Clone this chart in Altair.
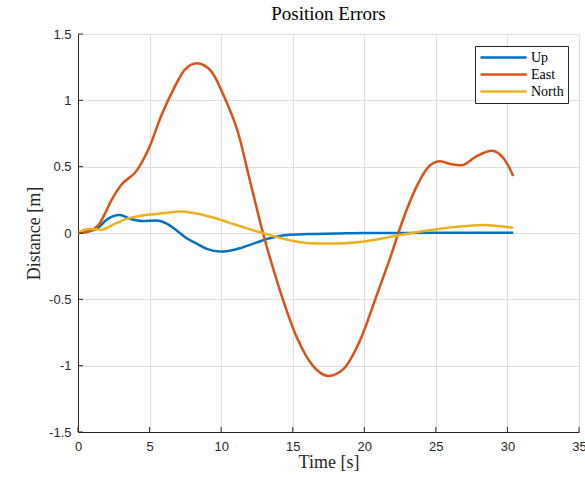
import altair as alt
import pandas as pd

# ---- data ----
up_t = [0, 0.6, 1.3, 2.0, 2.9, 3.7, 4.5, 5.5, 6.2, 7.0, 7.6, 8.2, 9.0, 9.9, 10.5, 11.3,
        12.0, 13.2, 14.6, 16, 18, 20, 22, 25, 28, 30.4]
up_v = [0, 0.01, 0.03, 0.10, 0.135, 0.105, 0.09, 0.094, 0.07, 0.01, -0.04, -0.075, -0.12,
        -0.14, -0.135, -0.115, -0.09, -0.045, -0.015, -0.008, -0.004, 0, 0, 0.002, 0.002, 0.002]

east_t = [0, 0.7, 1.1, 1.5, 1.9, 2.3, 3.0, 4.1, 5.0, 5.8, 6.75, 7.45, 8.3, 9.3, 10.2, 11.2,
          12.0, 12.9, 14.1, 15.3, 16.4, 17.5, 18.5, 19.7, 20.9, 21.8, 22.7, 23.65, 24.6,
          25.3, 26.0, 26.8, 27.8, 28.9, 29.5, 30.0, 30.4]
east_v = [0, 0.01, 0.03, 0.07, 0.15, 0.24, 0.36, 0.47, 0.65, 0.88, 1.10, 1.23, 1.28, 1.22,
          1.03, 0.75, 0.40, 0.01, -0.43, -0.79, -1.0, -1.077, -1.03, -0.81, -0.46, -0.19,
          0.10, 0.35, 0.51, 0.54, 0.52, 0.51, 0.575, 0.62, 0.59, 0.52, 0.43]

north_t = [0, 0.7, 1.6, 2.6, 3.5, 4.7, 6.0, 7.2, 8.1, 9.3, 10.5, 11.5, 12.9, 14.6, 16.2,
           17.8, 19.5, 21.1, 22.5, 25.2, 26.9, 28.3, 29.5, 30.4]
north_v = [0, 0.03, 0.025, 0.07, 0.11, 0.135, 0.15, 0.163, 0.15, 0.12, 0.08, 0.045, 0.0,
           -0.05, -0.077, -0.08, -0.07, -0.045, -0.015, 0.03, 0.05, 0.06, 0.05, 0.04]

series_names = ["Up", "East", "North"]
series_colors = ["#0072BD", "#D95319", "#EDB120"]

x_ticks = [0, 5, 10, 15, 20, 25, 30, 35]
y_ticks = [-1.5, -1, -0.5, 0, 0.5, 1, 1.5]

rows = []
for name, ts, vs in [("Up", up_t, up_v), ("East", east_t, east_v), ("North", north_t, north_v)]:
    for i, (t, v) in enumerate(zip(ts, vs)):
        rows.append({"t": t, "value": v, "series": name, "order": i})
df = pd.DataFrame(rows)
xt = pd.DataFrame({"t": x_ticks})
yt = pd.DataFrame({"value": y_ticks})

W, H = 501, 398
SERIF = "Liberation Serif"
SANS = "Liberation Sans"

xscale = alt.Scale(domain=[0, 35], nice=False, zero=False)
yscale = alt.Scale(domain=[-1.5, 1.5], nice=False, zero=False)

lines = alt.Chart(df).mark_line(strokeWidth=2.5, interpolate="monotone").encode(
    x=alt.X("t:Q", scale=xscale,
            axis=alt.Axis(title="Time [s]", values=x_ticks, labelExpr="'' + datum.value",
                          labelFlush=False)),
    y=alt.Y("value:Q", scale=yscale,
            axis=alt.Axis(title="Distance [m]", values=y_ticks, labelExpr="'' + datum.value",
                          labelFlush=False)),
    color=alt.Color("series:N",
                    scale=alt.Scale(domain=series_names, range=series_colors),
                    sort=series_names,
                    legend=alt.Legend(title=None, orient="none", legendX=397, legendY=12)),
    order="order:Q",
)

xtick_marks = alt.Chart(xt).mark_rule(color="#262626", strokeWidth=1).encode(
    x=alt.X("t:Q", scale=xscale),
    y=alt.value(H), y2=alt.value(H - 5),
)
ytick_marks = alt.Chart(yt).mark_rule(color="#262626", strokeWidth=1).encode(
    y=alt.Y("value:Q", scale=yscale),
    x=alt.value(0), x2=alt.value(5),
)

chart = alt.layer(lines, xtick_marks, ytick_marks).properties(
    width=W, height=H,
    title=alt.TitleParams("Position Errors", font=SERIF, fontSize=19, fontWeight="normal",
                          color="#000000", anchor="middle", offset=4),
    autosize=alt.AutoSizeParams(type="none"),
    padding={"left": 78, "top": 34, "right": 6, "bottom": 45},
).configure_view(stroke=None).configure_axis(
    grid=True, gridColor="#dedede", gridWidth=1,
    domainColor="#262626", domainWidth=1,
    ticks=False,
    labelFont=SANS, labelFontSize=13, labelColor="#262626",
    titleFont=SERIF, titleFontSize=18, titleFontWeight="normal", titleColor="#262626",
).configure_axisX(labelPadding=8, titlePadding=0).configure_axisY(
    labelPadding=7, titlePadding=5
).configure_legend(
    strokeColor="#262626", fillColor="white", padding=4, cornerRadius=0,
    symbolType="M-1,0H6.7", symbolSize=144, symbolStrokeWidth=2.5,
    labelFont=SERIF, labelFontSize=14, labelColor="#000000", rowPadding=2,
    labelOffset=37,
)

chart.save("out.html", embed_options={"renderer": "svg", "actions": False})
